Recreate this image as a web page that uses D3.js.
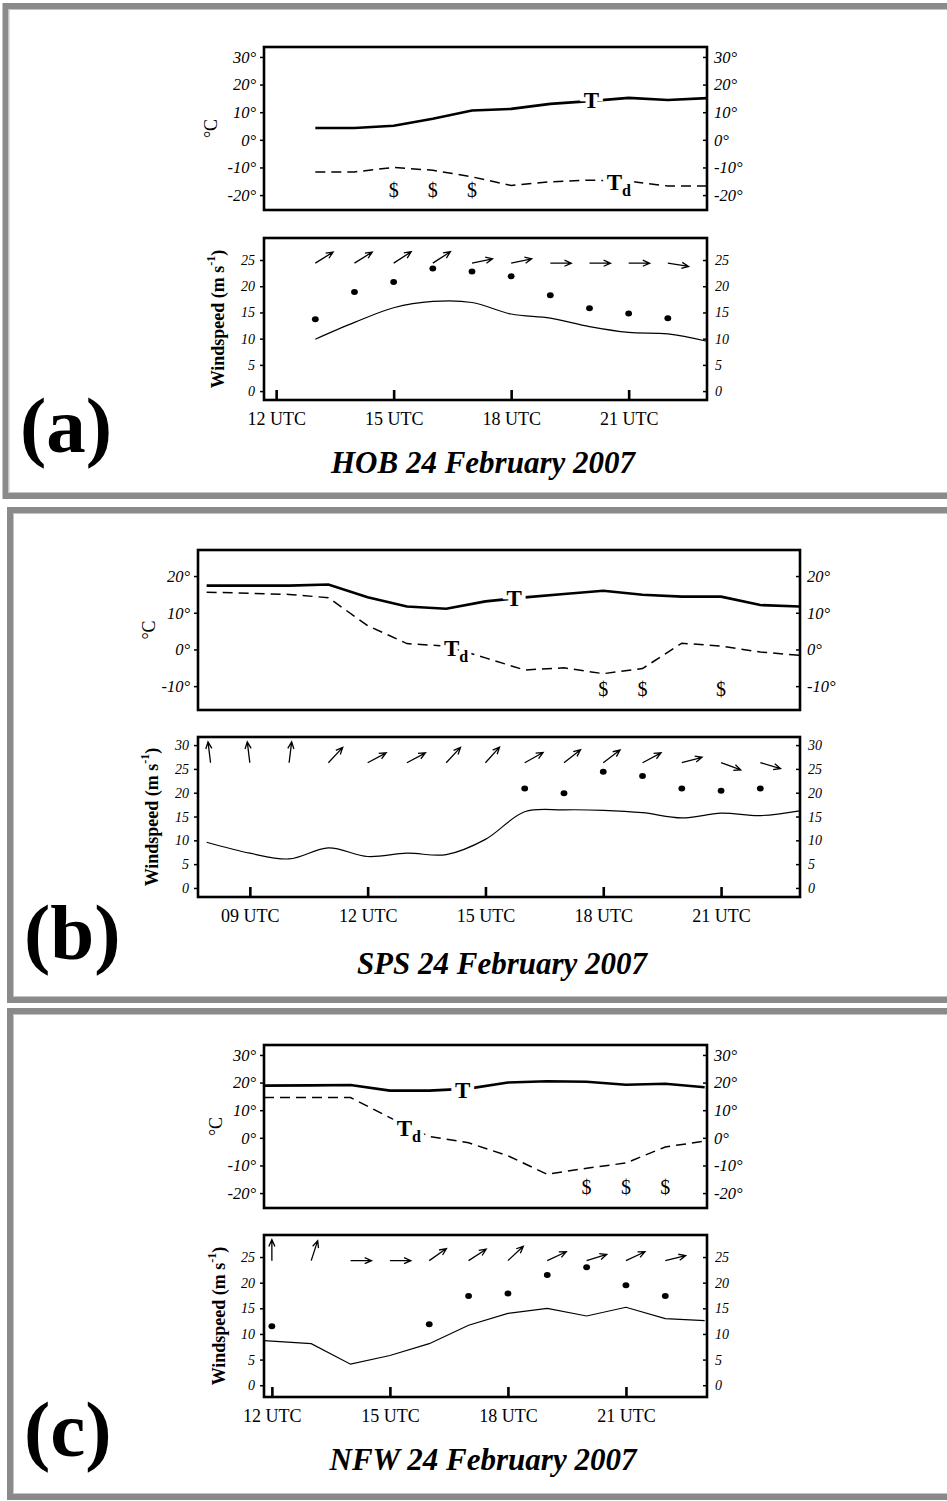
<!DOCTYPE html>
<html>
<head>
<meta charset="utf-8">
<script src="https://cdn.jsdelivr.net/npm/d3@7"></script>
<style>
  body { margin: 0; background: #fff; }
  svg { display: block; font-family: "Liberation Serif", "Times New Roman", serif; }
</style>
</head>
<body>
<div id="chart"></div>
<script>
// ---- (a) HOB
const hobHours = [13, 14, 15, 16, 17, 18, 19, 20, 21, 22, 23];
const hobTemp = [4.3, 4.3, 5.1, 7.6, 10.6, 11.2, 13.0, 14.0, 15.2, 14.4, 15.1];
const hobDew = [-11.6, -11.6, -10.0, -11.0, -13.4, -16.5, -15.2, -14.6, -15.0, -16.7, -16.7];
const hobWind = [9.9, 13.1, 15.9, 17.1, 16.9, 14.7, 13.9, 12.3, 11.2, 10.9, 9.5];
const hobGustHours = [13, 14, 15, 16, 17, 18, 19, 20, 21, 22];
const hobGust = [13.7, 18.9, 20.8, 23.4, 22.8, 21.9, 18.3, 15.8, 14.8, 13.9];
const hobArrowHours = [13, 14, 15, 16, 17, 18, 19, 20, 21, 22];
const hobArrowDir = [58, 58, 57, 57, 78, 78, 90, 90, 90, 99];   // hướng mũi tên (độ, 0 = bắc)
const hobDustHours = [15, 16, 17];

// ---- (b) SPS
const spsHours = [7.9, 9, 10, 11, 12, 13, 14, 15, 16, 17, 18, 19, 20, 21, 22, 23];
const spsTemp = [17.4, 17.4, 17.4, 17.7, 14.2, 11.7, 11.1, 13.1, 14.2, 15.1, 16.0, 14.9, 14.4, 14.4, 12.1, 11.7];
const spsDew = [15.6, 15.3, 15.0, 14.1, 6.5, 1.6, 0.9, -2.3, -5.6, -5.0, -6.6, -5.2, 1.7, 0.9, -0.7, -1.6];
const spsWind = [9.6, 7.3, 6.1, 8.4, 6.6, 7.3, 7.0, 10.2, 16.0, 16.4, 16.3, 15.8, 14.7, 15.7, 15.2, 16.2];
const spsGustHours = [16, 17, 18, 19, 20, 21, 22];
const spsGust = [20.9, 19.9, 24.4, 23.5, 20.9, 20.4, 20.9];
const spsArrowHours = [8, 9, 10, 11, 12, 13, 14, 15, 16, 17, 18, 19, 20, 21, 22];
const spsArrowDir = [353, 353, 7, 43, 62, 62, 43, 42, 61, 52, 53, 62, 75, 110, 106];
const spsDustHours = [18, 19, 21];

// ---- (c) NFW
const nfwHours = [11.8, 13, 14, 15, 16, 17, 18, 19, 20, 21, 22, 23];
const nfwTemp = [18.9, 19.0, 19.1, 17.1, 17.1, 17.8, 20.0, 20.5, 20.3, 19.2, 19.6, 18.3];
const nfwDew = [14.6, 14.6, 14.6, 7.3, 0.5, -1.8, -6.5, -13.2, -11.0, -9.1, -3.3, -1.2];
const nfwWind = [8.7, 8.1, 4.1, 5.8, 8.1, 11.7, 14.0, 15.0, 13.5, 15.2, 13.0, 12.6];
const nfwGustHours = [12, 16, 17, 18, 19, 20, 21, 22];
const nfwGust = [11.5, 11.9, 17.4, 17.9, 21.5, 23.0, 19.5, 17.4];
const nfwArrowHours = [12, 13, 14, 15, 16, 17, 18, 19, 20, 21, 22];
const nfwArrowDir = [0, 18, 90, 90, 55, 57, 47, 65, 73, 65, 76];
const nfwDustHours = [20, 21, 22];

// nhãn trục
const tempTicks30 = [30, 20, 10, 0, -10, -20];
const tempTicks20 = [20, 10, 0, -10];
const windTicks25 = [0, 5, 10, 15, 20, 25];
const windTicks30 = [0, 5, 10, 15, 20, 25, 30];
const timeTicks12 = [12, 15, 18, 21];
const timeTicks09 = [9, 12, 15, 18, 21];

const SERIF = '"Liberation Serif", "Times New Roman", serif';

const panels = [
  {
    letter: "(a)", title: "HOB 24 February 2007",
    box: { x: 5.5, y: 6, w: 980, h: 490 },
    left: 264, right: 707, xDomain: [11.69, 23.0], xTicks: timeTicks12,
    tTop: 47, tBottom: 210, tDomain: [-25.4, 33.6], tTicks: tempTicks30,
    wTop: 238, wBottom: 400, wDomain: [-1.7, 29.2], wTicks: windTicks25,
    hours: hobHours, temp: hobTemp, dew: hobDew, wind: hobWind, curve: d3.curveCatmullRom,
    gustHours: hobGustHours, gust: hobGust, arrowHours: hobArrowHours, arrowDir: hobArrowDir,
    dustHours: hobDustHours, dustY: -18.3, arrowBase: 24.4,
    tLabel: [20.05, 14.2], tdLabel: [20.75, -15.3],
    cLabelX: 211, wLabelX: 218, letterPos: [20, 452], titlePos: [483, 473]
  },
  {
    letter: "(b)", title: "SPS 24 February 2007",
    box: { x: 10, y: 510, w: 980, h: 490 },
    left: 198, right: 800, xDomain: [7.68, 23.01], xTicks: timeTicks09,
    tTop: 550, tBottom: 710, tDomain: [-16.5, 27.1], tTicks: tempTicks20,
    wTop: 737, wBottom: 897, wDomain: [-1.9, 31.7], wTicks: windTicks30,
    hours: spsHours, temp: spsTemp, dew: spsDew, wind: spsWind, curve: d3.curveCatmullRom,
    gustHours: spsGustHours, gust: spsGust, arrowHours: spsArrowHours, arrowDir: spsArrowDir,
    dustHours: spsDustHours, dustY: -10.8, arrowBase: 26.3,
    tLabel: [15.73, 14.0], tdLabel: [14.25, 0.4],
    cLabelX: 149, wLabelX: 152, letterPos: [24, 959], titlePos: [502, 974]
  },
  {
    letter: "(c)", title: "NFW 24 February 2007",
    box: { x: 10, y: 1011, w: 980, h: 486 },
    left: 264, right: 707, xDomain: [11.8, 23.06], xTicks: timeTicks12,
    tTop: 1045, tBottom: 1208, tDomain: [-25.4, 33.6], tTicks: tempTicks30,
    wTop: 1235, wBottom: 1397, wDomain: [-2.3, 29.3], wTicks: windTicks25,
    hours: nfwHours, temp: nfwTemp, dew: nfwDew, wind: nfwWind, curve: d3.curveLinear,
    gustHours: nfwGustHours, gust: nfwGust, arrowHours: nfwArrowHours, arrowDir: nfwArrowDir,
    dustHours: nfwDustHours, dustY: -17.7, arrowBase: 24.3,
    tLabel: [16.85, 17.1], tdLabel: [15.48, 3.7],
    cLabelX: 216, wLabelX: 219, letterPos: [24, 1456], titlePos: [483, 1470]
  }
];

const svg = d3.select("#chart").append("svg")
  .attr("width", 947)
  .attr("height", 1501);

panels.forEach(drawPanel);

function styleAxis(sel, size, italic) {
  sel.attr("font-family", SERIF).attr("font-size", size);
  sel.select(".domain").remove();
  sel.selectAll("line").attr("stroke", "#000").attr("stroke-width", 1.5);
  sel.selectAll("text")
    .attr("fill", "#000")
    .style("font-family", SERIF)
    .style("font-size", size + "px")
    .style("font-style", italic ? "italic" : "normal");
}

function drawPanel(p) {
  const g = svg.append("g");

  // Khung xám bao quanh
  g.append("rect")
    .attr("x", p.box.x).attr("y", p.box.y)
    .attr("width", p.box.w).attr("height", p.box.h)
    .attr("fill", "none").attr("stroke", "#8a8a8a").attr("stroke-width", 6);
  g.append("rect")
    .attr("x", p.box.x + 3.5).attr("y", p.box.y + 3.5)
    .attr("width", p.box.w - 7).attr("height", p.box.h - 7)
    .attr("fill", "none").attr("stroke", "#c4c4c4").attr("stroke-width", 1);

  const x = d3.scaleLinear().domain(p.xDomain).range([p.left, p.right]);
  const yT = d3.scaleLinear().domain(p.tDomain).range([p.tBottom, p.tTop]);
  const yW = d3.scaleLinear().domain(p.wDomain).range([p.wBottom, p.wTop]);

  const obs = p.hours.map((h, i) => ({ h: h, t: p.temp[i], td: p.dew[i], w: p.wind[i] }));

  // ---- Biểu đồ nhiệt độ
  g.append("path").datum(obs)
    .attr("fill", "none").attr("stroke", "#000").attr("stroke-width", 2.6)
    .attr("d", d3.line().x(d => x(d.h)).y(d => yT(d.t)));
  g.append("path").datum(obs)
    .attr("fill", "none").attr("stroke", "#000").attr("stroke-width", 1.5)
    .attr("stroke-dasharray", "10,6")
    .attr("d", d3.line().x(d => x(d.h)).y(d => yT(d.td)));

  // Nhãn T và Td (nền trắng che đường)
  g.append("text")
    .attr("x", x(p.tLabel[0])).attr("y", yT(p.tLabel[1]))
    .attr("text-anchor", "middle").attr("dominant-baseline", "central")
    .style("font-size", "23px").style("font-weight", "bold")
    .attr("stroke", "#fff").attr("stroke-width", 8).attr("paint-order", "stroke")
    .text("T");
  const td = g.append("text")
    .attr("x", x(p.tdLabel[0])).attr("y", yT(p.tdLabel[1]))
    .attr("text-anchor", "middle").attr("dominant-baseline", "central")
    .style("font-size", "23px").style("font-weight", "bold")
    .attr("stroke", "#fff").attr("stroke-width", 8).attr("paint-order", "stroke");
  td.append("tspan").text("T");
  td.append("tspan").attr("dy", 8).style("font-size", "16px").text("d");

  // Ký hiệu $
  g.selectAll(".dust").data(p.dustHours).join("text")
    .attr("class", "dust")
    .attr("x", d => x(d)).attr("y", yT(p.dustY))
    .attr("text-anchor", "middle").attr("dominant-baseline", "central")
    .style("font-size", "20px")
    .text("$");

  g.append("rect")
    .attr("x", p.left).attr("y", p.tTop)
    .attr("width", p.right - p.left).attr("height", p.tBottom - p.tTop)
    .attr("fill", "none").attr("stroke", "#000").attr("stroke-width", 2.6);

  g.append("g").attr("transform", `translate(${p.left},0)`)
    .call(d3.axisLeft(yT).tickValues(p.tTicks).tickSize(4).tickPadding(4).tickFormat(d => d + "°"))
    .call(s => styleAxis(s, 16.5, true));
  g.append("g").attr("transform", `translate(${p.right},0)`)
    .call(d3.axisRight(yT).tickValues(p.tTicks).tickSize(-4).tickPadding(7).tickFormat(d => d + "°"))
    .call(s => styleAxis(s, 16.5, true));

  g.append("text")
    .attr("transform", `translate(${p.cLabelX},${(p.tTop + p.tBottom) / 2}) rotate(-90)`)
    .attr("text-anchor", "middle").attr("dominant-baseline", "central")
    .style("font-size", "18px")
    .text("°C");

  // ---- Biểu đồ tốc độ gió
  g.append("path").datum(obs)
    .attr("fill", "none").attr("stroke", "#000").attr("stroke-width", 1.2)
    .attr("d", d3.line().curve(p.curve).x(d => x(d.h)).y(d => yW(d.w)));

  const gusts = p.gustHours.map((h, i) => ({ h: h, v: p.gust[i] }));
  g.selectAll(".gust").data(gusts).join("ellipse")
    .attr("class", "gust")
    .attr("cx", d => x(d.h)).attr("cy", d => yW(d.v))
    .attr("rx", 3.4).attr("ry", 3.0)
    .attr("fill", "#000");

  // Mũi tên hướng gió
  const arrows = p.arrowHours.map((h, i) => ({ h: h, dir: p.arrowDir[i] }));
  const len = 21, head = 7.5, spread = 0.42;
  g.selectAll(".arrow").data(arrows).join("path")
    .attr("class", "arrow")
    .attr("fill", "none").attr("stroke", "#000").attr("stroke-width", 1.3)
    .attr("d", d => {
      const a = d.dir * Math.PI / 180;
      const x0 = x(d.h), y0 = yW(p.arrowBase);
      const x1 = x0 + len * Math.sin(a), y1 = y0 - len * Math.cos(a);
      const b = a + Math.PI;
      const hx1 = x1 + head * Math.sin(b + spread), hy1 = y1 - head * Math.cos(b + spread);
      const hx2 = x1 + head * Math.sin(b - spread), hy2 = y1 - head * Math.cos(b - spread);
      return `M${x0},${y0}L${x1},${y1}M${hx1},${hy1}L${x1},${y1}L${hx2},${hy2}`;
    });

  g.append("rect")
    .attr("x", p.left).attr("y", p.wTop)
    .attr("width", p.right - p.left).attr("height", p.wBottom - p.wTop)
    .attr("fill", "none").attr("stroke", "#000").attr("stroke-width", 2.6);

  g.append("g").attr("transform", `translate(${p.left},0)`)
    .call(d3.axisLeft(yW).tickValues(p.wTicks).tickSize(4).tickPadding(5))
    .call(s => styleAxis(s, 14, true));
  g.append("g").attr("transform", `translate(${p.right},0)`)
    .call(d3.axisRight(yW).tickValues(p.wTicks).tickSize(-4).tickPadding(8))
    .call(s => styleAxis(s, 14, true));

  // Trục thời gian
  const xAxis = g.append("g").attr("transform", `translate(0,${p.wBottom})`)
    .call(d3.axisBottom(x).tickValues(p.xTicks).tickSize(-10).tickPadding(12)
      .tickFormat(d => String(d).padStart(2, "0") + " UTC"));
  styleAxis(xAxis, 18, false);
  xAxis.selectAll("line").attr("stroke-width", 2.6);

  const wl = g.append("text")
    .attr("transform", `translate(${p.wLabelX},${(p.wTop + p.wBottom) / 2}) rotate(-90)`)
    .attr("text-anchor", "middle").attr("dominant-baseline", "central")
    .style("font-size", "18px").style("font-weight", "bold");
  wl.append("tspan").text("Windspeed (m s");
  wl.append("tspan").attr("dy", -7).style("font-size", "12px").text("-1");
  wl.append("tspan").attr("dy", 7).text(")");

  // Chữ cái và tiêu đề
  g.append("text")
    .attr("x", p.letterPos[0]).attr("y", p.letterPos[1])
    .style("font-size", "79px").style("font-weight", "bold")
    .text(p.letter);
  g.append("text")
    .attr("x", p.titlePos[0]).attr("y", p.titlePos[1])
    .attr("text-anchor", "middle")
    .style("font-size", "31px").style("font-weight", "bold").style("font-style", "italic")
    .text(p.title);
}
</script>
</body>
</html>
